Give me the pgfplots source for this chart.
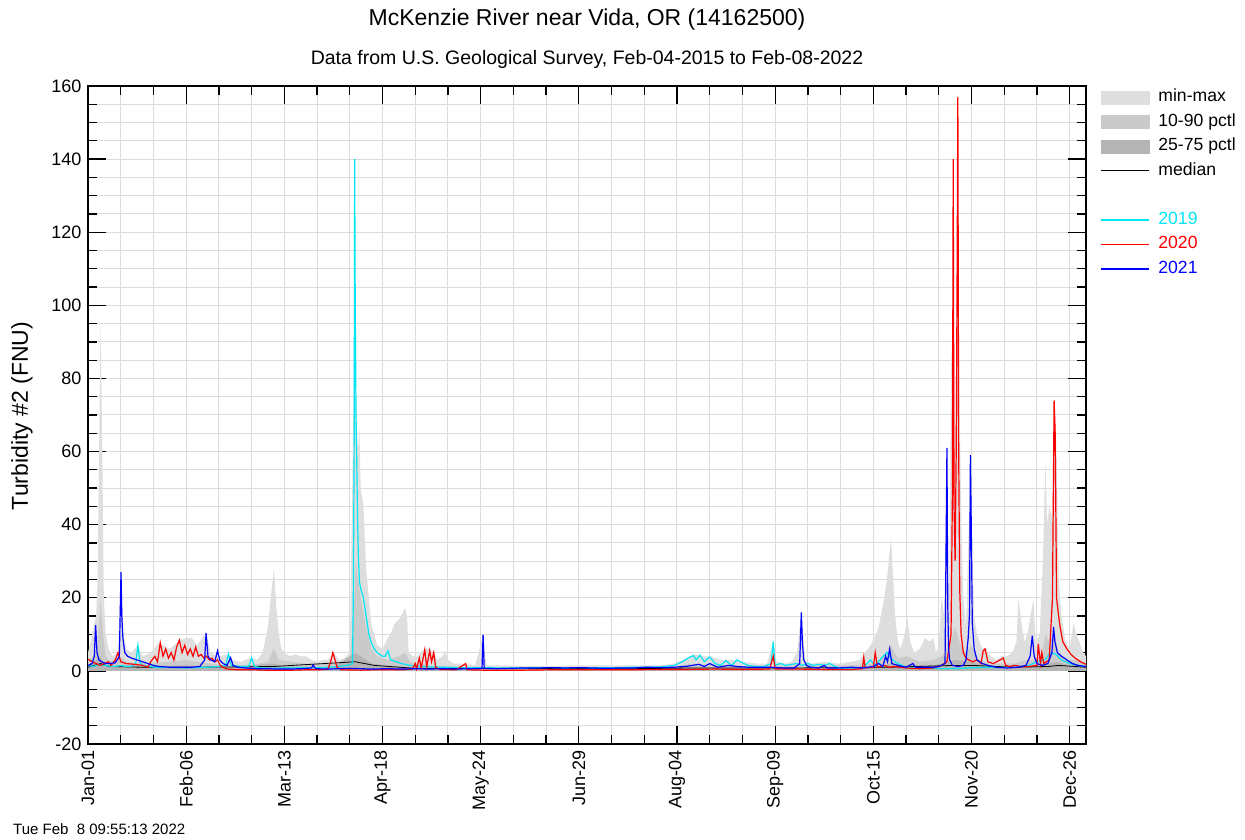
\documentclass[border=0pt]{standalone}
\usepackage{fontspec}
\setmainfont{Liberation Sans}
\usepackage{pgfplots}
\pgfplotsset{compat=1.18}
\definecolor{mmgray}{HTML}{DEDEDE}
\definecolor{pgray}{HTML}{CACACA}
\definecolor{qgray}{HTML}{B4B4B4}
\definecolor{gridgray}{HTML}{DCDCDC}
\definecolor{c19}{RGB}{0,230,245}
\definecolor{c20}{RGB}{255,0,0}
\definecolor{c21}{RGB}{0,0,255}
\pgfplotsset{
 lineleg/.style={legend image code/.code={\draw[##1] (0pt,0pt) -- (48pt,0pt); \path (57pt,0pt);}},
 boxleg/.style={legend image code/.code={\fill[##1] (0pt,-6.5pt) rectangle (48pt,6.5pt); \path (57pt,0pt);}},
}
\begin{document}
\begin{tikzpicture}[x=1pt,y=1pt]
\useasboundingbox (0,0) rectangle (1245,839);
\begin{axis}[
 at={(88pt,95pt)}, anchor=south west,
 scale only axis, width=998pt, height=658pt,
 xmin=0, xmax=366, ymin=-20, ymax=160,
 xtick={0,36,...,360},
 xticklabels={Jan-01,Feb-06,Mar-13,Apr-18,May-24,Jun-29,Aug-04,Sep-09,Oct-15,Nov-20,Dec-26},
 minor x tick num=2,
 ytick={-20,0,...,160},
 minor y tick num=3,
 grid=both,
 major grid style={gridgray, line width=1pt},
 minor grid style={gridgray, line width=1pt},
 tick align=inside, tick pos=both,
 major tick length=18pt, minor tick length=9pt,
 axis line style={black, line width=1.3pt},
 tick style={black, line width=1.3pt},
 /pgf/number format/assume math mode=true,
 x tick label style={rotate=90, anchor=east, font=\fontsize{18}{18}\selectfont, xshift=-3pt},
 y tick label style={font=\fontsize{18}{18}\selectfont, xshift=-3pt},
 legend style={at={(1,1)}, anchor=north west, xshift=14pt, yshift=-3pt, draw=none, fill=none,
   font=\fontsize{17.6}{17.6}\selectfont, row sep=8pt, inner sep=0pt,
   nodes={inner sep=0pt, text height=12.5pt, text depth=4pt}},
 legend cell align=left,
]
\addlegendimage{mmgray, boxleg}
\addlegendentry{min-max}
\addlegendimage{pgray, boxleg}
\addlegendentry{10-90 pctl}
\addlegendimage{qgray, boxleg}
\addlegendentry{25-75 pctl}
\addlegendimage{black, line width=1pt, lineleg}
\addlegendentry{median}
\addlegendimage{legend image code/.code={\path (57pt,0pt);}}
\addlegendentry{}
\addlegendimage{c19, line width=1.2pt, lineleg}
\addlegendentry{\textcolor{c19}{2019}}
\addlegendimage{c20, line width=1.2pt, lineleg}
\addlegendentry{\textcolor{c20}{2020}}
\addlegendimage{c21, line width=1.2pt, lineleg}
\addlegendentry{\textcolor{c21}{2021}}

% min-max band
\addplot[fill=mmgray, draw=none, forget plot] coordinates {
(0,0)(0,5)(1,8)(2,12)(3,15)(3.5,25)(4,55)(4.6,95)(5.2,63)(5.8,20)(6.5,10)(7.5,6)(9,4)(11,5)(12.1,27)(13,10)(14,6)(16,5)(18.3,7)(20,4)(23,5)(26,7.7)(30,6)(33.5,8.4)(36,9)(38,9)(40,7)(43.3,10.4)(45,5)(48,4)(51.5,4.6)(53,3)(56,2.5)(60,3.6)(62,3)(64,5)(66,12)(67,20)(68.2,28)(69,18)(70,10)(71,6)(72,5)(74,4)(76,4.5)(78,4)(80,4)(82,3)(84,2.5)(86,3)(88,3)(90,5)(92,3)(94,3.5)(96,5)(96.8,45)(97.4,75)(97.8,140)(98.3,70)(99,60)(99.5,67)(100,50)(101,45)(102,28)(103,20)(104,12)(105,10)(106,7)(108,6)(110,9)(111.5,11)(112.5,13)(114,14)(115.5,16)(116.3,17.3)(117,15)(117.6,5)(119,4)(121,4)(121.8,5)(123.5,6)(125.3,6)(127,5)(128,3)(130,4)(131,5.5)(132,3)(134,2)(138,2)(142,1.5)(144.9,9.9)(146,1.5)(150,1.5)(160,1.3)(170,1.3)(180,1.5)(190,1.5)(200,1.5)(210,1.5)(215,2)(218,3)(221,4)(223,4.5)(225,4)(228,4)(232,3)(236,3)(240,2.5)(245,2)(249,2)(251.3,8)(252,2.5)(256,2)(258,2.5)(260,5)(261.6,16)(263,3)(265,2)(270,2.5)(275,2)(280,2.5)(283,3)(285,5)(287,7)(289,10)(290,12)(292,20)(293,25)(294.5,36.5)(295.5,22)(296,15)(297,8)(298,6)(299.5,10)(300.5,14.5)(301.5,8)(303,5)(305,6)(307,9)(308.5,8)(310,9)(311,5)(312,7)(313,20)(314,15)(315,61)(315.5,20)(316,30)(316.5,84)(317,92)(317.3,140)(317.6,90)(318,60)(318.7,104)(319,157)(319.3,92)(319.7,70)(320.3,40)(321,20)(322,12)(323.7,59)(324,41)(325,15)(326,10)(327,8)(328,6)(329.5,6)(331,4)(333,3)(335,4)(337,4)(339,5)(340.5,8)(341.2,20)(342.5,12)(343.5,8)(344.5,10)(346.7,19.7)(347.5,8)(349,10)(350.2,30)(351.1,57.5)(351.8,40)(352.5,45)(353.7,42)(354.4,74)(355,65)(356,25)(357,15)(358.5,8)(360,6)(361.4,13)(362.5,10)(363.5,8)(365,5)(366,4)(366,0)} \closedcycle;
% 10-90 band
\addplot[fill=pgray, draw=none, forget plot] coordinates {
(0,0)(0,2.5)(2,4)(3.5,7)(4.6,19)(5.5,10)(6.5,4)(8,2.5)(12,4)(14,2.5)(20,2)(30,2.5)(36,3)(40,2.5)(45,2)(50,1.5)(60,1.5)(66,2.5)(68.2,6)(70,3)(75,2.5)(80,2)(90,2)(96,2.5)(97.4,15)(98.2,30)(99,25)(100,20)(102,12)(104,6)(106,4)(110,3)(114,4)(116.3,5)(118,2.5)(125,1.5)(135,1.2)(150,1)(200,1)(215,1.2)(222,2)(230,1.5)(250,1.2)(260,1.5)(280,1.5)(288,2)(292,4)(294.5,7)(297,3.5)(300.5,4)(305,2.5)(310,3)(313,4)(316,7)(318,12)(320,7)(322,5)(324,7)(326,3.5)(330,2)(340,2)(344,3)(347,3)(350,5)(351,10)(352.5,8)(354.5,10)(356,5)(358,3)(362,3)(366,2)(366,0)} \closedcycle;
% 25-75 band
\addplot[fill=qgray, draw=none, forget plot] coordinates {
(0,0)(0,1.2)(4.6,4)(6,1.5)(12,1.5)(20,1.2)(36,1.5)(50,1)(68.2,2)(72,1.2)(90,1)(98,5)(100,4)(104,2)(110,1.5)(120,0.8)(150,0.7)(200,0.7)(222,1)(250,0.8)(290,1.2)(294.5,2)(300,1.5)(310,1.5)(318,3)(324,2.5)(330,1.2)(345,1.2)(352,2)(355,2.5)(360,1.5)(366,1.2)(366,0)} \closedcycle;
% median
\addplot[black, line width=0.8pt, forget plot] coordinates {
(0,1)(4.6,2)(8,1.2)(20,1)(40,1)(68,1.2)(98,2.5)(105,1.5)(120,0.7)(200,0.6)(222,0.8)(260,0.8)(294,1)(318,1.5)(324,1.5)(340,1)(352,1.2)(356,1.5)(366,1)};
% 2019
\addplot[c19, line width=1.2pt, forget plot] coordinates {
(0,1.5)(2,1.2)(4,1.8)(6,1.5)(8,1.3)(10,1.2)(12,1.5)(14,1.2)(16,1.3)(17.5,2)(18.3,7)(19,2.5)(20,1.5)(22,1.2)(25,1)(28,1)(32,0.9)(36,0.8)(40,0.9)(44,1)(48,1.2)(50.5,1.5)(51.5,4.6)(52.5,1.5)(56,1.2)(59,1.3)(60,3.6)(61,1.2)(64,0.8)(68,0.7)(72,0.8)(76,0.8)(80,0.9)(84,0.9)(88,1)(92,1.2)(95,1.5)(97,2)(97.3,20)(97.6,60)(97.8,140)(98.0,100)(98.3,70)(98.6,55)(98.9,40)(99.2,30)(99.6,24)(100.2,22)(101,20)(102,15)(103,10)(104,7.5)(105,6)(106,5)(107,4.5)(108,4)(109,4)(110,5.5)(111,3)(113,2.5)(115,2)(118,1.5)(121,1.3)(125,1.1)(130,1)(135,0.9)(140,0.9)(145,0.9)(150,0.8)(155,0.8)(160,0.8)(165,0.9)(170,0.9)(175,0.8)(180,0.9)(185,0.8)(190,0.9)(195,0.9)(200,1)(205,1)(210,1.1)(215,1.5)(218,2.5)(220,3.5)(222,4.2)(223,3)(224.5,4.3)(226,2.5)(228,3.8)(230,2)(232,1.5)(234,2.8)(236,1.5)(238,3)(240,2.2)(242,1.5)(245,1.2)(248,1.2)(250.5,2)(251.3,8)(252,1.5)(254,2)(256,1.5)(258,1.8)(260,2)(262,1.5)(264,2)(266,1.5)(268,1.8)(270,1.5)(272,2)(274,1.2)(276,0.7)(280,0.6)(284,0.8)(287,3)(288.5,1.5)(291,3.5)(293,5)(295,3)(297,2)(300,1)(305,0.8)(310,0.7)(315,0.6)(320,0.7)(325,0.9)(330,1)(335,0.9)(340,1)(345,1.5)(348,2.5)(351,3)(353,5)(355,4.5)(357,3)(360,2)(363,1.5)(366,1.2)};
% 2020
\addplot[c20, line width=1.2pt, forget plot] coordinates {
(0,3.2)(1.5,2.5)(3,2)(4.5,1.5)(6,2)(7.5,2.5)(8.5,1.5)(10,3)(11,5)(12,2.5)(14,2)(17,1.8)(20,1.5)(22,1)(23,2.5)(24.5,4)(25.5,2.5)(26.5,7.7)(27.5,4)(28.5,6)(29.5,3.5)(30.5,5)(31.5,3)(32.5,6.5)(33.5,8.4)(34.5,5)(35.5,7)(36.5,4.5)(37.5,6)(38.5,4)(39.5,6.5)(40.5,4)(41.5,4.5)(42.5,3.5)(43.5,4)(44.5,3)(45.5,3.5)(46.5,2.5)(47.5,3)(48.5,1.5)(49.5,1)(51,0.5)(55,0.3)(60,0.3)(65,0.2)(70,0.2)(75,0.2)(80,0.3)(85,0.3)(88,0.5)(89,2.5)(89.8,5)(90.6,3)(91.3,1)(93,0.3)(100,0.2)(105,0.3)(110,0.3)(115,0.3)(119,0.5)(120,2)(120.5,0.5)(121.5,3.5)(122.2,0.8)(123.5,5.8)(124.2,1)(125.3,5.5)(126,2.5)(126.8,5)(127.5,1)(129,0.4)(135,0.3)(138.5,2)(139,0.3)(145,0.2)(150,0.2)(160,0.2)(170,0.3)(180,0.3)(190,0.3)(200,0.3)(210,0.4)(220,0.4)(230,0.5)(240,0.4)(250,0.5)(251.3,4)(252,0.5)(260,0.5)(270,0.4)(280,0.4)(284,0.6)(284.5,3.7)(285,0.8)(288,1)(288.7,5)(289.5,1)(292,1.5)(294,1)(296,1.2)(300,0.8)(305,0.6)(310,0.8)(313,1.5)(315,2.5)(316.5,10)(317,48)(317.3,140)(317.6,45)(318,30)(318.4,60)(318.7,104)(319,157)(319.3,60)(319.7,22)(320.2,10)(321,5)(322,3.5)(323,3)(324.5,2.5)(326,3)(327.5,2)(328.3,5.5)(329,6)(330,2.5)(332,2)(335.7,3.5)(336.5,1.5)(338,1.2)(340,1.5)(342,1.2)(345,1.2)(348,1.5)(348.5,7.4)(349.3,2)(349.8,5)(350.5,2)(352.5,3)(353.7,20)(354.3,74)(354.7,65)(355.2,20)(355.8,16)(356.5,12)(357.5,8)(359,6)(360.5,4.5)(362,3.5)(364,2.5)(366,1.8)};
% 2021
\addplot[c21, line width=1.2pt, forget plot] coordinates {
(0,1.5)(1.5,2)(2.3,4)(2.8,12.5)(3.3,5)(4,3)(5,2.5)(6.5,2)(8,2)(10,2.2)(11.5,4)(12.1,27)(12.4,15)(12.8,9)(13.5,5)(14.5,4)(16,3.5)(18,3)(20,2.5)(22,2)(24,1.5)(26,1.2)(30,1)(34,1)(38,1)(41,1.2)(42.8,3)(43.3,10.4)(44,4)(45,3)(46.5,2.5)(47.5,5.5)(48.3,3)(49.5,2)(51,1.5)(52.3,3.6)(53.2,1.5)(55,1)(58,0.8)(62,0.6)(66,0.6)(70,0.5)(74,0.5)(78,0.6)(82,0.8)(82.5,1.6)(83.5,0.6)(88,0.5)(92,0.6)(96,0.7)(100,0.6)(104,0.5)(110,0.6)(115,0.5)(120,0.6)(125,0.5)(130,0.6)(135,0.5)(140,0.6)(144.5,0.7)(144.9,9.9)(145.3,0.7)(150,0.6)(155,0.7)(160,0.8)(165,0.8)(170,0.9)(175,0.8)(180,0.9)(185,0.8)(190,0.7)(195,0.8)(200,0.8)(205,1)(210,0.9)(215,1)(220,1.3)(224,1.8)(226,1.2)(228,2)(231,1)(235,1.5)(238,1.2)(242,1)(246,1)(250,1)(255,0.8)(259,0.8)(261,2)(261.6,16)(262,7.7)(262.5,3)(263.5,1.5)(265,1)(268,0.8)(270,1.5)(271,0.8)(275,0.8)(280,1)(284,0.8)(288,1.2)(290,2)(291.5,1.2)(292.5,4)(293.2,2.5)(294,6)(294.8,2)(297,1.5)(300,1)(302.5,2)(303.5,1)(307,1)(310,1)(312,1.2)(314.3,2)(315,61)(315.3,18)(315.6,6)(316,3)(317,1.5)(319,1.2)(321,1.5)(322,3)(322.8,9)(323.3,16)(323.6,59)(323.9,41)(324.3,13)(325,6)(326,3)(328,2)(330,1.5)(333,1)(337,0.8)(341,1)(344,1.5)(345.5,4)(346.3,9.6)(347,4)(348,2)(350,1.5)(352,2)(353.5,5)(354.1,12)(354.6,8)(355.5,5)(357,4)(359,3)(361,2)(363,1.5)(366,1.2)};
\end{axis}
\node[font=\fontsize{23}{23}\selectfont] at (587,819) {McKenzie River near Vida, OR (14162500)};
\node[font=\fontsize{19.5}{19.5}\selectfont] at (587,780) {Data from U.S. Geological Survey, Feb-04-2015 to Feb-08-2022};
\node[rotate=90, font=\fontsize{23}{23}\selectfont] at (22,423) {Turbidity \#2 (FNU)};
\node[anchor=west, inner sep=0pt, font=\fontsize{15}{15}\selectfont] at (13,10) {Tue Feb\ \ 8 09:55:13 2022};
\end{tikzpicture}
\end{document}
